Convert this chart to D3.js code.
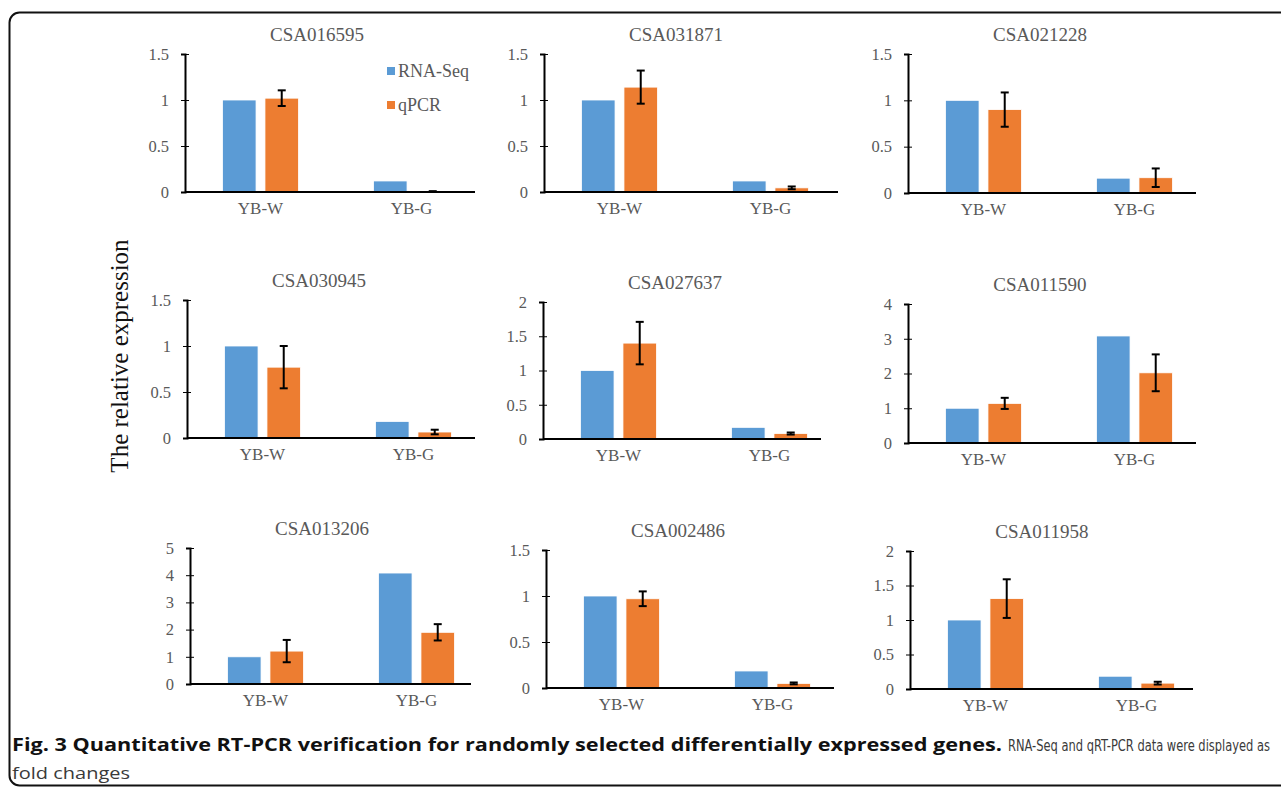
<!DOCTYPE html>
<html>
<head>
<meta charset="utf-8">
<script src="https://cdnjs.cloudflare.com/ajax/libs/d3/7.8.5/d3.min.js"></script>
<style>
  body { margin: 0; background: #fff; }
  svg { display: block; }
</style>
</head>
<body>
<div id="vis"></div>
<script>
// values
const genes = ['CSA016595', 'CSA031871', 'CSA021228', 'CSA030945', 'CSA027637', 'CSA011590', 'CSA013206', 'CSA002486', 'CSA011958'];
const categories = ['YB-W', 'YB-G'];
const series = ['RNA-Seq', 'qPCR'];
const rnaSeq = [[1, 0.12], [1, 0.12], [1, 0.16], [1, 0.18], [1, 0.17], [1, 3.08], [1, 4.08], [1, 0.185], [1, 0.185]];
const qpcr = [[1.02, 0.005], [1.14, 0.045], [0.90, 0.165], [0.77, 0.065], [1.40, 0.08], [1.14, 2.02], [1.21, 1.9], [0.97, 0.05], [1.31, 0.085]];
const qpcrErr = [[0.085, 0.004], [0.18, 0.015], [0.185, 0.1], [0.23, 0.025], [0.31, 0.015], [0.16, 0.53], [0.41, 0.3], [0.08, 0.01], [0.28, 0.02]];
const yMax = [1.5, 1.5, 1.5, 1.5, 2, 4, 5, 1.5, 2];
const yStep = [0.5, 0.5, 0.5, 0.5, 0.5, 1, 1, 0.5, 0.5];

const colors = { 'RNA-Seq': '#5b9bd5', 'qPCR': '#ed7d31' };
const serif = '"Liberation Serif", "Times New Roman", serif';
const grey = '#595959';

// where each small panel sits on the page
const layout = [
  { x: 185, top: 54, zero: 192, axisLen: 290 },
  { x: 544, top: 54, zero: 192, axisLen: 294 },
  { x: 908, top: 54, zero: 193, axisLen: 288 },
  { x: 187, top: 300, zero: 438, axisLen: 288 },
  { x: 543, top: 302, zero: 439, axisLen: 278 },
  { x: 908, top: 304, zero: 443, axisLen: 288 },
  { x: 190, top: 548, zero: 684, axisLen: 281 },
  { x: 546, top: 550, zero: 688, axisLen: 288 },
  { x: 910, top: 551, zero: 689, axisLen: 283 }
];

let width = 1281, height = 793;

let svg = d3.select('#vis')
  .append('svg')
  .attr('width', width)
  .attr('height', height)
  .attr('viewBox', [0, 0, width, height].join(' '));

// frame with rounded left corners
svg.append('rect')
  .attr('x', 9.5).attr('y', 12.5)
  .attr('width', 1320).attr('height', 773)
  .attr('rx', 10)
  .attr('fill', 'none')
  .attr('stroke', '#111')
  .attr('stroke-width', 2);

let x0 = d3.scaleBand().domain(categories).range([0, 302]);
let x1 = d3.scaleBand().domain(series).range([-38, 38]).paddingInner(0.21);

genes.forEach((gene, i) => {
  let L = layout[i];
  let g = svg.append('g').attr('transform', `translate(${L.x},0)`);

  let y = d3.scaleLinear().domain([0, yMax[i]]).range([L.zero, L.top]);
  let ticks = d3.range(0, yMax[i] + 1e-9, yStep[i]);

  let rows = categories.map((c, j) => ({
    cat: c,
    vals: [
      { s: 'RNA-Seq', v: rnaSeq[i][j], e: 0 },
      { s: 'qPCR', v: qpcr[i][j], e: qpcrErr[i][j] }
    ]
  }));

  // bars
  let grp = g.selectAll('.grp').data(rows).join('g')
    .attr('transform', d => `translate(${x0(d.cat) + x0.bandwidth() / 2},0)`);

  grp.selectAll('rect').data(d => d.vals).join('rect')
    .attr('x', d => x1(d.s))
    .attr('width', x1.bandwidth())
    .attr('y', d => y(d.v))
    .attr('height', d => y(0) - y(d.v))
    .attr('fill', d => colors[d.s])
    .attr('stroke', '#fff')
    .attr('stroke-width', 0.8);

  // error bars on qPCR
  let eb = grp.selectAll('.err').data(d => d.vals.filter(v => v.e > 0)).join('g')
    .attr('class', 'err')
    .attr('transform', d => `translate(${x1(d.s) + x1.bandwidth() / 2},0)`)
    .attr('stroke', '#000').attr('stroke-width', 2);
  eb.append('line').attr('y1', d => y(d.v + d.e)).attr('y2', d => y(Math.max(0, d.v - d.e)));
  eb.append('line').attr('x1', -4).attr('x2', 4).attr('y1', d => y(d.v + d.e)).attr('y2', d => y(d.v + d.e));
  eb.append('line').attr('x1', -4).attr('x2', 4).attr('y1', d => y(Math.max(0, d.v - d.e))).attr('y2', d => y(Math.max(0, d.v - d.e)));

  // y axis
  let ya = g.append('g')
    .call(d3.axisLeft(y).tickValues(ticks).tickFormat(d3.format('~g')).tickSize(4).tickPadding(12));
  ya.select('.domain').attr('stroke', '#000').attr('stroke-width', 2);
  ya.selectAll('.tick line').attr('stroke', '#000').attr('stroke-width', 1).attr('x2', 4).attr('x1', -4);
  ya.selectAll('.tick text').attr('fill', grey).style('font', `16.5px ${serif}`);

  // x axis
  g.append('line')
    .attr('x1', 0).attr('x2', L.axisLen)
    .attr('y1', y(0)).attr('y2', y(0))
    .attr('stroke', '#000').attr('stroke-width', 2);
  let xa = g.append('g')
    .attr('transform', `translate(0,${y(0)})`)
    .call(d3.axisBottom(x0).tickSize(0).tickPadding(10));
  xa.select('.domain').remove();
  xa.selectAll('.tick text').attr('fill', grey).style('font', `17px ${serif}`);

  // title
  g.append('text')
    .attr('x', 132).attr('y', L.top - 13)
    .attr('text-anchor', 'middle')
    .attr('fill', grey)
    .style('font', `19px ${serif}`)
    .text(gene);

  // legend only in the first panel
  if (i === 0) {
    let lg = g.selectAll('.lg').data(series).join('g')
      .attr('transform', (d, k) => `translate(202,${71 + k * 34})`);
    lg.append('rect').attr('x', 0).attr('y', -4).attr('width', 8).attr('height', 8)
      .attr('fill', d => colors[d]);
    lg.append('text').attr('x', 11).attr('y', 6)
      .attr('fill', grey)
      .style('font', `18px ${serif}`)
      .text(d => d);
  }
});

// shared y label
svg.append('text')
  .attr('transform', 'translate(128,356) rotate(-90)')
  .attr('text-anchor', 'middle')
  .attr('fill', '#111')
  .style('font', `25px ${serif}`)
  .text('The relative expression');

// caption
let cap = '"Open Sans", "Noto Sans", sans-serif';
let capNarrow = '"Liberation Sans Narrow", "DejaVu Sans Condensed", "Open Sans", sans-serif';
svg.append('text')
  .attr('x', 12).attr('y', 751)
  .attr('textLength', 990).attr('lengthAdjust', 'spacingAndGlyphs')
  .attr('fill', '#111')
  .style('font', `bold 18px ${cap}`)
  .text('Fig. 3 Quantitative RT-PCR verification for randomly selected differentially expressed genes.');
svg.append('text')
  .attr('x', 1008).attr('y', 751)
  .attr('textLength', 262).attr('lengthAdjust', 'spacingAndGlyphs')
  .attr('fill', '#3a3a3a')
  .style('font', `16px ${capNarrow}`)
  .text('RNA-Seq and qRT-PCR data were displayed as');
svg.append('text')
  .attr('x', 12).attr('y', 779)
  .attr('textLength', 118).attr('lengthAdjust', 'spacingAndGlyphs')
  .attr('fill', '#3a3a3a')
  .style('font', `17px ${cap}`)
  .text('fold changes');
</script>
</body>
</html>
